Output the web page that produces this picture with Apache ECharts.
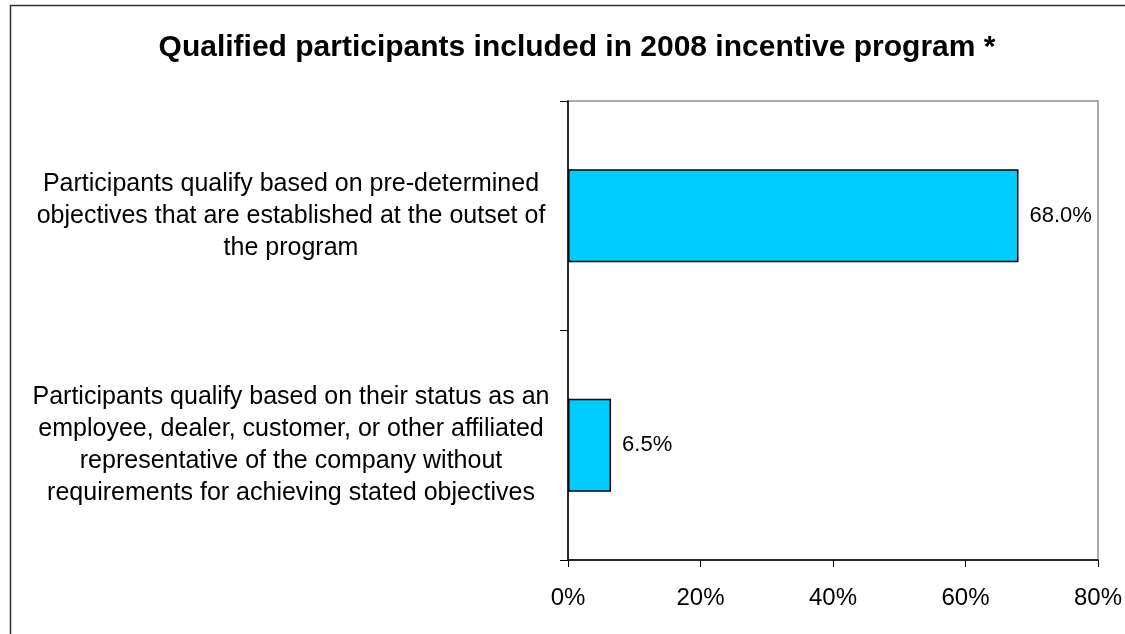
<!DOCTYPE html>
<html>
<head>
<meta charset="utf-8">
<script src="https://cdn.jsdelivr.net/npm/echarts@6/dist/echarts.min.js"></script>
<style>html,body{margin:0;padding:0;background:#fff;}#c{width:1125px;height:634px;}</style>
</head>
<body>
<div id="c"></div>
<script>
const titleText = 'Qualified participants included in 2008 incentive program *';
const categories = [
  'Participants qualify based on pre-determined\nobjectives that are established at the outset of\nthe program',
  'Participants qualify based on their status as an\nemployee, dealer, customer, or other affiliated\nrepresentative of the company without\nrequirements for achieving stated objectives'
];
const values = [68.0, 6.5];
const xTicks = [0, 20, 40, 60, 80];

const chart = echarts.init(document.getElementById('c'), null, {renderer: 'canvas'});
const FONT = 'Liberation Sans, Arial, sans-serif';
chart.setOption({
  animation: false,
  backgroundColor: '#fff',
  title: {
    text: titleText,
    left: 572, top: 28, textAlign: 'center',
    textStyle: {fontFamily: FONT, fontSize: 30, fontWeight: 'bold', color: '#000'}
  },
  graphic: [{
    type: 'rect', shape: {x: 10.5, y: 5.5, width: 1130, height: 640},
    style: {fill: 'none', stroke: '#333', lineWidth: 1.5}, z: 100
  }],
  grid: {left: 568, right: 26, top: 101, bottom: 74, show: true, borderColor: '#909090', borderWidth: 1.5, containLabel: false},
  xAxis: {
    type: 'value', min: xTicks[0], max: xTicks[xTicks.length - 1], interval: 20,
    axisLine: {show: true, lineStyle: {color: '#000', width: 1.5}},
    axisTick: {show: true, length: 7, lineStyle: {color: '#000'}},
    splitLine: {show: false},
    axisLabel: {formatter: '{value}%', fontFamily: FONT, fontSize: 24, color: '#000', margin: 26}
  },
  yAxis: {
    type: 'category', inverse: true, data: categories,
    axisLine: {show: true, lineStyle: {color: '#000', width: 1.5}},
    axisTick: {show: true, length: 8, lineStyle: {color: '#000'}},
    axisLabel: {fontFamily: FONT, fontSize: 25, lineHeight: 32, color: '#000', align: 'center', margin: 277}
  },
  series: [{
    type: 'bar', data: values, barWidth: 93,
    itemStyle: {color: '#00CCFF', borderColor: '#000', borderWidth: 1.5},
    label: {show: true, position: 'right', distance: 11, fontFamily: FONT, fontSize: 22, color: '#000',
      formatter: p => p.value.toFixed(1) + '%'}
  }]
});
</script>
</body>
</html>
